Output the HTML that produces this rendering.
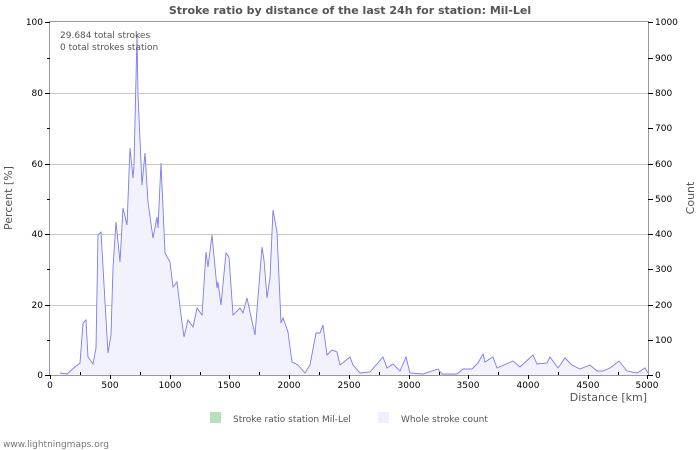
<!DOCTYPE html>
<html><head><meta charset="utf-8"><style>
body{margin:0;background:#fff;}
svg{display:block;font-family:"DejaVu Sans","Liberation Sans",sans-serif;}
</style></head><body>
<svg width="700" height="450" viewBox="0 0 700 450">
<rect width="700" height="450" fill="#fff"/>
<text x="350" y="14" text-anchor="middle" font-size="11" font-weight="bold" fill="#555">Stroke ratio by distance of the last 24h for station: Mil-Lel</text>
<g stroke="#c8c8c8" stroke-width="1">
<line x1="50" y1="93.5" x2="648" y2="93.5"/>
<line x1="50" y1="164.5" x2="648" y2="164.5"/>
<line x1="50" y1="234.5" x2="648" y2="234.5"/>
<line x1="50" y1="305.5" x2="648" y2="305.5"/>
</g>
<polygon fill="#f2f2fc" stroke="none" points="60,375 60,373 67,374 75,367 80,363 83,323 86,320 88,357 93,364 96,348 98,235 101,232 105,302 108,353 111,335 113,268 116,222 120,262 123,208 127,225 130,148 133,178 134,165 137,35 138,95 142,185 145,153 148,202 153,238 157,217 158,228 161,163 165,253 170,262 173,287 177,282 181,315 184,337 188,320 193,327 197,308 202,315 206,252 208,267 212,235 217,288 218,282 221,305 226,253 229,257 233,315 240,308 243,313 247,298 255,335 262,247 264,260 267,298 270,278 273,210 277,232 281,323 283,318 288,332 292,362 298,365 305,373 310,365 316,333 320,333 323,325 327,355 332,350 337,352 340,365 350,357 353,365 360,373 370,372 383,357 387,368 393,364 400,371 406,357 410,373 423,374 438,369 442,374 457,374 463,369 472,369 478,363 483,354 485,362 493,357 497,368 513,361 520,367 533,355 537,364 547,363 550,357 558,368 565,358 572,365 580,369 590,365 597,371 603,371 610,368 619,361 627,371 637,373 645,368 648,373 648,375"/>
<polyline fill="none" stroke="#7b7bf0" stroke-width="0.9" points="60,373 67,374 75,367 80,363 83,323 86,320 88,357 93,364 96,348 98,235 101,232 105,302 108,353 111,335 113,268 116,222 120,262 123,208 127,225 130,148 133,178 134,165 137,35 138,95 142,185 145,153 148,202 153,238 157,217 158,228 161,163 165,253 170,262 173,287 177,282 181,315 184,337 188,320 193,327 197,308 202,315 206,252 208,267 212,235 217,288 218,282 221,305 226,253 229,257 233,315 240,308 243,313 247,298 255,335 262,247 264,260 267,298 270,278 273,210 277,232 281,323 283,318 288,332 292,362 298,365 305,373 310,365 316,333 320,333 323,325 327,355 332,350 337,352 340,365 350,357 353,365 360,373 370,372 383,357 387,368 393,364 400,371 406,357 410,373 423,374 438,369 442,374 457,374 463,369 472,369 478,363 483,354 485,362 493,357 497,368 513,361 520,367 533,355 537,364 547,363 550,357 558,368 565,358 572,365 580,369 590,365 597,371 603,371 610,368 619,361 627,371 637,373 645,368 648,373"/>
<g stroke="#999" stroke-width="1" fill="none">
<rect x="49.5" y="21.5" width="599" height="354"/>
</g>
<g stroke="#000" stroke-width="1">
<line x1="45" y1="375.5" x2="50" y2="375.5"/><line x1="45" y1="305.5" x2="50" y2="305.5"/><line x1="45" y1="234.5" x2="50" y2="234.5"/><line x1="45" y1="164.5" x2="50" y2="164.5"/><line x1="45" y1="93.5" x2="50" y2="93.5"/><line x1="45" y1="22.5" x2="50" y2="22.5"/>
<line x1="47" y1="340.5" x2="50" y2="340.5"/><line x1="47" y1="269.5" x2="50" y2="269.5"/><line x1="47" y1="199.5" x2="50" y2="199.5"/><line x1="47" y1="128.5" x2="50" y2="128.5"/><line x1="47" y1="58.5" x2="50" y2="58.5"/>
<line x1="648" y1="375.5" x2="653" y2="375.5"/><line x1="648" y1="340.5" x2="653" y2="340.5"/><line x1="648" y1="305.5" x2="653" y2="305.5"/><line x1="648" y1="269.5" x2="653" y2="269.5"/><line x1="648" y1="234.5" x2="653" y2="234.5"/><line x1="648" y1="199.5" x2="653" y2="199.5"/><line x1="648" y1="164.5" x2="653" y2="164.5"/><line x1="648" y1="128.5" x2="653" y2="128.5"/><line x1="648" y1="93.5" x2="653" y2="93.5"/><line x1="648" y1="58.5" x2="653" y2="58.5"/><line x1="648" y1="22.5" x2="653" y2="22.5"/>
<line x1="50.5" y1="375" x2="50.5" y2="379"/><line x1="110.5" y1="375" x2="110.5" y2="379"/><line x1="170.5" y1="375" x2="170.5" y2="379"/><line x1="229.5" y1="375" x2="229.5" y2="379"/><line x1="289.5" y1="375" x2="289.5" y2="379"/><line x1="349.5" y1="375" x2="349.5" y2="379"/><line x1="409.5" y1="375" x2="409.5" y2="379"/><line x1="468.5" y1="375" x2="468.5" y2="379"/><line x1="528.5" y1="375" x2="528.5" y2="379"/><line x1="588.5" y1="375" x2="588.5" y2="379"/><line x1="647.5" y1="375" x2="647.5" y2="379"/>
<line x1="80.5" y1="372" x2="80.5" y2="375"/><line x1="140.5" y1="372" x2="140.5" y2="375"/><line x1="200.5" y1="372" x2="200.5" y2="375"/><line x1="259.5" y1="372" x2="259.5" y2="375"/><line x1="319.5" y1="372" x2="319.5" y2="375"/><line x1="379.5" y1="372" x2="379.5" y2="375"/><line x1="439.5" y1="372" x2="439.5" y2="375"/><line x1="498.5" y1="372" x2="498.5" y2="375"/><line x1="558.5" y1="372" x2="558.5" y2="375"/><line x1="618.5" y1="372" x2="618.5" y2="375"/>
</g>
<g font-size="9" fill="#000">
<g text-anchor="end"><text x="43" y="378">0</text><text x="43" y="308">20</text><text x="43" y="237">40</text><text x="43" y="167">60</text><text x="43" y="96">80</text><text x="43" y="25">100</text></g>
<g text-anchor="start"><text x="655" y="378">0</text><text x="655" y="343">100</text><text x="655" y="308">200</text><text x="655" y="272">300</text><text x="655" y="237">400</text><text x="655" y="202">500</text><text x="655" y="167">600</text><text x="655" y="131">700</text><text x="655" y="96">800</text><text x="655" y="61">900</text><text x="655" y="25">1000</text></g>
<g text-anchor="middle"><text x="50" y="388">0</text><text x="110" y="388">500</text><text x="170" y="388">1000</text><text x="229" y="388">1500</text><text x="289" y="388">2000</text><text x="349" y="388">2500</text><text x="409" y="388">3000</text><text x="468" y="388">3500</text><text x="528" y="388">4000</text><text x="588" y="388">4500</text><text x="647" y="388">5000</text></g>
</g>
<text x="647" y="401" text-anchor="end" font-size="11" fill="#555">Distance   [km]</text>
<text transform="translate(12,198) rotate(-90)" text-anchor="middle" font-size="11" fill="#555">Percent   [%]</text>
<text transform="translate(694,198) rotate(-90)" text-anchor="middle" font-size="11" fill="#555">Count</text>
<text x="60" y="38" font-size="9" fill="#555">29.684 total strokes</text>
<text x="60" y="50" font-size="9" fill="#555">0 total strokes station</text>
<rect x="210" y="412" width="11" height="11" fill="#b8e0b8"/>
<text x="233" y="422" font-size="9" fill="#555">Stroke ratio station Mil-Lel</text>
<rect x="378" y="412" width="11" height="11" fill="#f0f0fc"/>
<text x="401" y="422" font-size="9" fill="#555">Whole stroke count</text>
<text x="3" y="447" font-size="9" fill="#777">www.lightningmaps.org</text>
</svg>
</body></html>
